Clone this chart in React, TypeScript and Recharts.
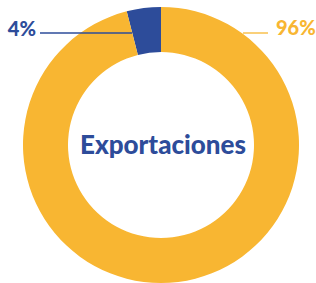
import React from "react";
import { PieChart, Pie, Cell } from "recharts";

const categories = ["Otros", "Principal"];
const values = [4, 96];
const labels = ["4%", "96%"];
const colors = ["#2D4C9A", "#F8B632"];
const title = "Exportaciones";

const data = categories.map((name, i) => ({ name, value: values[i] }));

const FONT = "Lato, 'Open Sans', sans-serif";

const renderLabel = (props: any) => {
  const { cx, cy, index } = props;
  const y = cy - 112;
  if (index === 0) {
    return (
      <g>
        <line x1={cx - 121} y1={y} x2={cx - 29} y2={y} stroke={colors[0]} strokeWidth={1.3} />
        <text x={cx - 125} y={y + 3} textAnchor="end" fill={colors[0]} fontSize={20} fontWeight={900} fontFamily={FONT}>
          {labels[0]}
        </text>
      </g>
    );
  }
  return (
    <g>
      <line x1={cx + 82} y1={y} x2={cx + 107} y2={y} stroke={colors[1]} strokeWidth={1.3} />
      <text x={cx + 115} y={y + 2} textAnchor="start" fill={colors[1]} fontSize={20} fontWeight={900} fontFamily={FONT}>
        {labels[1]}
      </text>
    </g>
  );
};

export default function App() {
  return (
    <div style={{ position: "absolute", left: 0, top: 0, width: 316, height: 283, background: "#fff" }}>
      <PieChart width={316} height={283} margin={{ top: 0, right: 0, bottom: 0, left: 0 }}>
        <Pie
          data={data}
          dataKey="value"
          cx={161}
          cy={145}
          innerRadius={93}
          outerRadius={138}
          startAngle={90}
          endAngle={450}
          stroke="none"
          label={renderLabel}
          labelLine={false}
          isAnimationActive={false}
        >
          {data.map((d, i) => (
            <Cell key={d.name} fill={colors[i]} />
          ))}
        </Pie>
        <text x={163} y={154} textAnchor="middle" fill={colors[0]} fontSize={26} fontWeight={900} fontFamily={FONT}>
          {title}
        </text>
      </PieChart>
    </div>
  );
}
